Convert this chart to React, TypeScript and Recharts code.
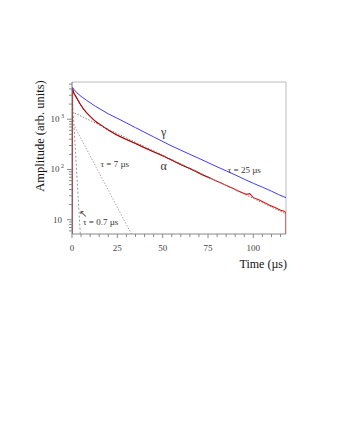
import React from "react";
import {
	Line,
	LineChart,
	ReferenceDot,
	ReferenceLine,
	XAxis,
	YAxis,
} from "recharts";

// gamma (blue) pulse shape
const gammaTime = [0, 0.3, 1, 2.7, 5, 8, 13, 20, 27, 35, 45, 54, 60, 65, 70, 75, 80, 85, 90, 95, 100, 105, 110, 114, 118];
const gammaAmp = [5, 4300, 3950, 3350, 2850, 2380, 1800, 1280, 960, 680, 445, 305, 242, 200, 166, 137, 113, 94, 78, 64, 53, 44.5, 37, 31.5, 27.5];

// alpha (red) pulse shape
const alphaTime = [0, 0.3, 1, 2.7, 4.5, 6.4, 8, 10.4, 13, 16, 20, 25, 30, 35, 40, 45, 50, 54, 60, 64, 68, 72, 76, 80, 84, 88, 92, 96, 98, 100, 103, 106, 109, 112, 115, 117, 118, 118];
const alphaAmp = [5, 4000, 3300, 2600, 2000, 1580, 1350, 1100, 900, 760, 610, 480, 395, 330, 270, 225, 188, 160, 125, 108, 93, 78, 68, 58, 50, 43.5, 37, 32, 33, 27.5, 25, 22, 19.5, 17.5, 15.5, 14.8, 13.8, 3];

// alpha fit overlay (dark red)
const alphaFitTime = [0.3, 1, 2.7, 4.5, 6.4, 8, 10.4, 13, 16, 20, 25, 30, 35, 40, 45, 50, 54, 60, 64, 68, 72, 76];
const alphaFitAmp = [4000, 3300, 2600, 2000, 1580, 1350, 1100, 900, 760, 610, 480, 395, 330, 270, 225, 188, 160, 125, 108, 92, 79, 68];

// single exponential components (straight on log scale)
const tau25Time = [0, 118];
const tau25Amp = [1400, 13];
const tau7Time = [0, 33];
const tau7Amp = [900, 5];
const tau07Time = [0, 4.6];
const tau07Amp = [3500, 5];

const xTicks = [0, 5, 10, 15, 20, 25, 30, 35, 40, 45, 50, 55, 60, 65, 70, 75, 80, 85, 90, 95, 100, 105, 110, 115];
const yTicks = [6, 7, 8, 9, 10, 20, 30, 40, 50, 60, 70, 80, 90, 100, 200, 300, 400, 500, 600, 700, 800, 900, 1000, 2000, 3000, 4000, 5000];

const toRows = (t: number[], a: number[]) => t.map((x, i) => ({ t: x, a: a[i] }));

const gamma = toRows(gammaTime, gammaAmp);
const alpha = toRows(alphaTime, alphaAmp);
const alphaFit = toRows(alphaFitTime, alphaFitAmp);
const tau25 = toRows(tau25Time, tau25Amp);
const tau7 = toRows(tau7Time, tau7Amp);
const tau07 = toRows(tau07Time, tau07Amp);

const serif = "'Liberation Serif', 'Times New Roman', serif";

const XTick = ({ x, y, payload }: any) => {
	const major = payload.value % 25 === 0;
	return (
		<g>
			<line x1={x} x2={x} y1={y} y2={y + (major ? 4 : 3)} stroke="#888" />
			{major && (
				<text x={x} y={y + 17} textAnchor="middle" fontSize={9} fill="#444" fontFamily={serif}>
					{payload.value}
				</text>
			)}
		</g>
	);
};

const YTick = ({ x, y, payload }: any) => {
	const v = payload.value;
	const major = v === 10 || v === 100 || v === 1000;
	return (
		<g>
			<line x1={x} x2={x - (major ? 5 : 3)} y1={y} y2={y} stroke="#888" />
			{v === 10 && (
				<text x={x - 10} y={y + 3} textAnchor="end" fontSize={9} fill="#444" fontFamily={serif}>
					10
				</text>
			)}
			{(v === 100 || v === 1000) && (
				<text x={x - 8} y={y + 3} textAnchor="end" fontSize={9} fill="#444" fontFamily={serif}>
					10
					<tspan dx={1.5} dy={-4} fontSize={6}>
						{v === 100 ? "2" : "3"}
					</tspan>
				</text>
			)}
		</g>
	);
};

const textLabel = (value: string, size = 9) => ({
	value,
	position: "center" as const,
	fontSize: size,
	fill: "#333",
	fontFamily: serif,
});

export default function App() {
	return (
		<LineChart
			width={321}
			height={300}
			margin={{ top: 74, right: 43, left: 34, bottom: 44 }}
		>
			<XAxis
				dataKey="t"
				type="number"
				domain={[0, 118]}
				allowDataOverflow
				ticks={xTicks}
				interval={0}
				tick={<XTick />}
				tickLine={false}
				tickSize={0}
				tickMargin={0}
				stroke="#888"
				height={30}
				label={{
					content: ({ viewBox }: any) => (
						<text
							x={viewBox.x + viewBox.width + 1}
							y={viewBox.y + 34}
							textAnchor="end"
							fontSize={12}
							fill="#111"
							fontFamily={serif}
						>
							Time (µs)
						</text>
					),
				}}
			/>
			<YAxis
				dataKey="a"
				scale="log"
				domain={[5.2, 5500]}
				allowDataOverflow
				ticks={yTicks}
				interval={0}
				tick={<YTick />}
				tickLine={false}
				tickSize={0}
				tickMargin={0}
				stroke="#777"
				width={30}
				label={{
					content: () => (
						<text
							x={0}
							y={0}
							transform="translate(36 128) rotate(-90)"
							textAnchor="middle"
							fontSize={12.5}
							fill="#111"
							fontFamily={serif}
						>
							Amplitude (arb. units)
						</text>
					),
				}}
			/>
			<ReferenceLine y={5500} stroke="#ddd" strokeWidth={2} />
			<ReferenceLine x={118} stroke="#bbb" />

			<Line data={tau07} dataKey="a" stroke="#999" strokeWidth={1} strokeDasharray="2 2" dot={false} isAnimationActive={false} />
			<Line data={tau7} dataKey="a" stroke="#aaa" strokeWidth={1} strokeDasharray="1.5 1.5" dot={false} isAnimationActive={false} />
			<Line data={gamma} dataKey="a" stroke="#3e3ef2" strokeWidth={1} dot={false} isAnimationActive={false} />
			<Line data={alpha} dataKey="a" stroke="#e31010" strokeWidth={1.1} dot={false} isAnimationActive={false} />
			<Line data={alphaFit} dataKey="a" stroke="#a00808" strokeWidth={1} dot={false} isAnimationActive={false} />
			<Line data={tau25} dataKey="a" stroke="#888" strokeWidth={1} strokeDasharray="1.5 1.5" dot={false} isAnimationActive={false} />

			<ReferenceDot x={50.5} y={560} r={0} fill="none" stroke="none" label={textLabel("γ", 12)} />
			<ReferenceDot x={50.5} y={118} r={0} fill="none" stroke="none" label={textLabel("α", 12)} />
			<ReferenceDot x={23.6} y={130} r={0} fill="none" stroke="none" label={textLabel("τ = 7 µs")} />
			<ReferenceDot x={95} y={98} r={0} fill="none" stroke="none" label={textLabel("τ = 25 µs")} />
			<ReferenceDot x={15.8} y={9.2} r={0} fill="none" stroke="none" label={textLabel("τ = 0.7 µs")} />
			<ReferenceDot x={6.3} y={13.5} r={0} fill="none" stroke="none" label={{ ...textLabel("↖", 10), fontFamily: "DejaVu Sans" }} />
		</LineChart>
	);
}
